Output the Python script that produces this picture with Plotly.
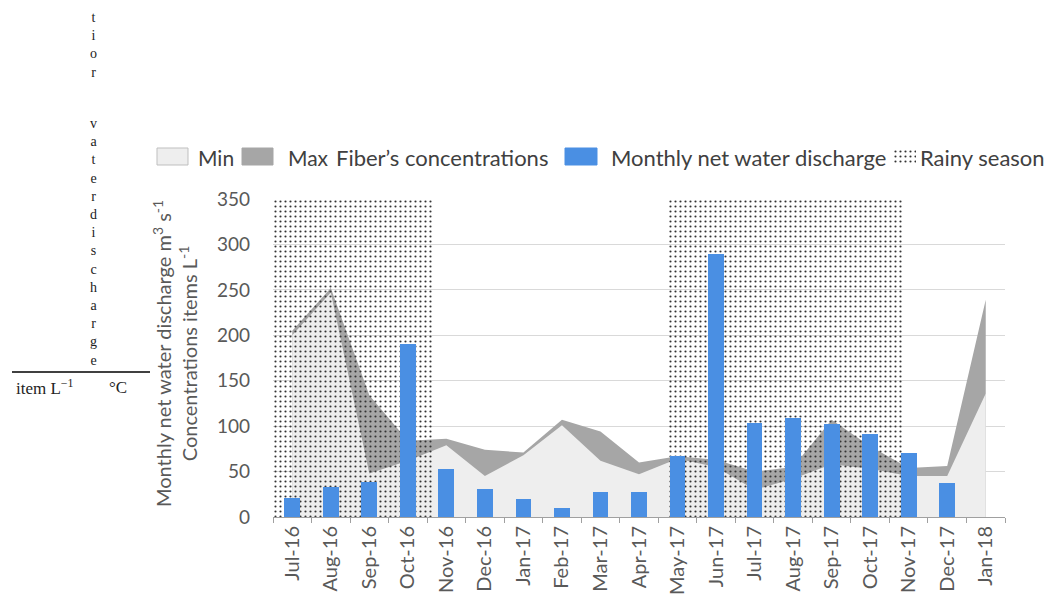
import plotly.graph_objects as go

# ---------------- data ----------------
months = ["Jul-16", "Aug-16", "Sep-16", "Oct-16", "Nov-16", "Dec-16", "Jan-17",
          "Feb-17", "Mar-17", "Apr-17", "May-17", "Jun-17", "Jul-17", "Aug-17",
          "Sep-17", "Oct-17", "Nov-17", "Dec-17", "Jan-18"]
discharge = [21, 33, 39, 190, 53, 31, 20, 10, 28, 27, 67, 290, 103, 109, 102, 91, 70, 37, None]
conc_min = [200, 247, 48, 62, 79, 45, 68, 101, 62, 47, 64, 55, 30, 42, 58, 53, 45, 45, 136]
conc_max = [205, 252, 134, 84, 86, 74, 71, 107, 94, 60, 67, 63, 50, 55, 107, 78, 54, 56, 239]
rainy_from = [-0.5, 9.75]   # in category-index units
rainy_to = [3.65, 15.85]
rainy_top = [350, 350]
y_ticks = [0, 50, 100, 150, 200, 250, 300, 350]

# ---------------- geometry helpers ----------------
W, H = 1060, 596
OFF = 8  # page body margin offset
SCR_L, SCR_R, SCR_T, SCR_B = 273, 1005, 199, 517
L = SCR_L - OFF
R = W - (SCR_R - OFF)
B = H - (SCR_B - OFF)
T_MARGIN = 132 - OFF
PW = W - L - R
PH = H - T_MARGIN - B


def px(x):
    return (x - OFF - L) / PW


def py(y):
    return (H - B - (y - OFF)) / PH


FONT = "Lato"
GREY_TXT = "#595959"
LEG_TXT = "#404040"
BLUE = "#4A8FE3"
DARK = "#A6A6A6"
LIGHT = "#EEEEEE"

fig = go.Figure()

# Max (dark) area then Min (light) area on top
fig.add_trace(go.Scatter(x=months, y=conc_max, mode="lines", fill="tozeroy",
                         line=dict(width=0, color=DARK), fillcolor=DARK,
                         name="Max", showlegend=False, hoverinfo="skip"))
fig.add_trace(go.Scatter(x=months, y=conc_min, mode="lines", fill="tozeroy",
                         line=dict(width=0, color=LIGHT), fillcolor=LIGHT,
                         name="Min", showlegend=False, hoverinfo="skip"))

pattern = dict(shape=".", fgcolor="#333333", bgcolor="rgba(0,0,0,0)", size=5, solidity=0.15)

# Rainy season boxes (overlay numeric axis)
fig.add_trace(go.Bar(x=[(a + b) / 2 for a, b in zip(rainy_from, rainy_to)], y=rainy_top,
                     width=[b - a for a, b in zip(rainy_from, rainy_to)],
                     xaxis="x2", yaxis="y2", name="Rainy season", showlegend=False,
                     marker=dict(color="rgba(0,0,0,0)", line=dict(width=0), pattern=pattern),
                     hoverinfo="skip"))

# Monthly discharge bars (overlay category axis, on top)
fig.add_trace(go.Bar(x=months, y=discharge, width=0.41, xaxis="x3", yaxis="y3",
                     name="Monthly net water discharge", showlegend=False,
                     marker=dict(color=BLUE, line=dict(width=0))))

# Legend icon for rainy season (tiny subplot)
fig.add_trace(go.Bar(x=[0.5], y=[1], width=[1], xaxis="x4", yaxis="y4", showlegend=False,
                     marker=dict(color="rgba(0,0,0,0)", line=dict(width=0), pattern=pattern),
                     hoverinfo="skip"))

ytickfont = dict(family=FONT, size=19, color=GREY_TXT)
xtickfont = dict(family=FONT, size=20, color=GREY_TXT)

fig.update_layout(
    width=W, height=H, template="none",
    margin=dict(l=L, r=R, t=T_MARGIN, b=B),
    paper_bgcolor="white", plot_bgcolor="rgba(0,0,0,0)",
    font=dict(family=FONT, size=19, color=GREY_TXT),
    xaxis=dict(type="category", categoryorder="array", categoryarray=months,
               range=[-0.5, 18.5], domain=[0, 1], anchor="y",
               tickson="boundaries", ticks="outside", ticklen=5, tickcolor="#A0A0A0",
               showline=True, linecolor="#A0A0A0", linewidth=1, showgrid=False,
               tickangle=-90, tickfont=xtickfont, automargin=False, zeroline=False),
    yaxis=dict(domain=[0, py(SCR_T)], range=[0, 350], tickvals=y_ticks, anchor="x",
               showgrid=True, gridcolor="#D9D9D9", gridwidth=1, showline=False,
               zeroline=False, ticks="", ticklabelstandoff=22, tickfont=ytickfont,
               automargin=False),
    xaxis2=dict(overlaying="x", range=[-0.5, 18.5], visible=False, anchor="y2"),
    yaxis2=dict(overlaying="y", range=[0, 350], visible=False, anchor="x2"),
    xaxis3=dict(overlaying="x", type="category", categoryorder="array", categoryarray=months,
                range=[-0.5, 18.5], visible=False, anchor="y3"),
    yaxis3=dict(overlaying="y", range=[0, 350], visible=False, anchor="x3"),
    xaxis4=dict(domain=[px(893), px(916)], range=[0, 1], visible=False, anchor="y4"),
    yaxis4=dict(domain=[py(165), py(149)], range=[0, 1], visible=False, anchor="x4"),
    bargap=0,
)

shapes = []
annotations = []

# Legend boxes
shapes.append(dict(type="rect", xref="paper", yref="paper", x0=px(157), x1=px(188),
                   y0=py(165), y1=py(148), fillcolor=LIGHT, line=dict(color="#BFBFBF", width=1)))
shapes.append(dict(type="rect", xref="paper", yref="paper", x0=px(242), x1=px(273),
                   y0=py(165), y1=py(148), fillcolor=DARK, line=dict(color=DARK, width=1)))
shapes.append(dict(type="rect", xref="paper", yref="paper", x0=px(565), x1=px(597),
                   y0=py(165), y1=py(148), fillcolor=BLUE, line=dict(color=BLUE, width=1)))

for text, x, size in [("Min", 196, 21), ("Max", 286, 21), ("Fiber\u2019s concentrations", 334, 22),
                      ("Monthly net water discharge", 609, 22), ("Rainy season", 918, 22)]:
    annotations.append(dict(text=text, x=px(x), y=py(157), xref="paper", yref="paper",
                            xanchor="left", yanchor="middle", showarrow=False,
                            font=dict(family=FONT, size=size, color=LEG_TXT)))

# Y axis title
annotations.append(dict(text="Monthly net water discharge m<sup>3</sup> s<sup>-1</sup><br>Concentrations items L<sup>-1</sup>",
                        x=px(175), y=py(354), xref="paper", yref="paper", textangle=-90,
                        xanchor="center", yanchor="middle", showarrow=False,
                        font=dict(family=FONT, size=20, color=GREY_TXT)))

# Stray serif text on the left
serif = dict(family="Liberation Serif", size=14, color="#222222")
serif_big = dict(family="Liberation Serif", size=17, color="#222222")
annotations.append(dict(text="<br>".join("tior"), x=px(93), y=py(8), xref="paper", yref="paper",
                        xanchor="center", yanchor="top", showarrow=False, font=serif))
annotations.append(dict(text="<br>".join("vaterdischarge"), x=px(93), y=py(370), xref="paper",
                        yref="paper", xanchor="center", yanchor="bottom", showarrow=False, font=serif))
shapes.append(dict(type="line", xref="paper", yref="paper", x0=px(12), x1=px(150),
                   y0=py(372), y1=py(372), line=dict(color="black", width=1.5)))
annotations.append(dict(text="item L<sup>\u22121</sup>", x=px(14), y=py(387), xref="paper", yref="paper",
                        xanchor="left", yanchor="middle", showarrow=False, font=serif_big))
annotations.append(dict(text="\u00b0C", x=px(107), y=py(387), xref="paper", yref="paper",
                        xanchor="left", yanchor="middle", showarrow=False, font=serif_big))

fig.update_layout(shapes=shapes, annotations=annotations)

fig.write_html("out.html")
